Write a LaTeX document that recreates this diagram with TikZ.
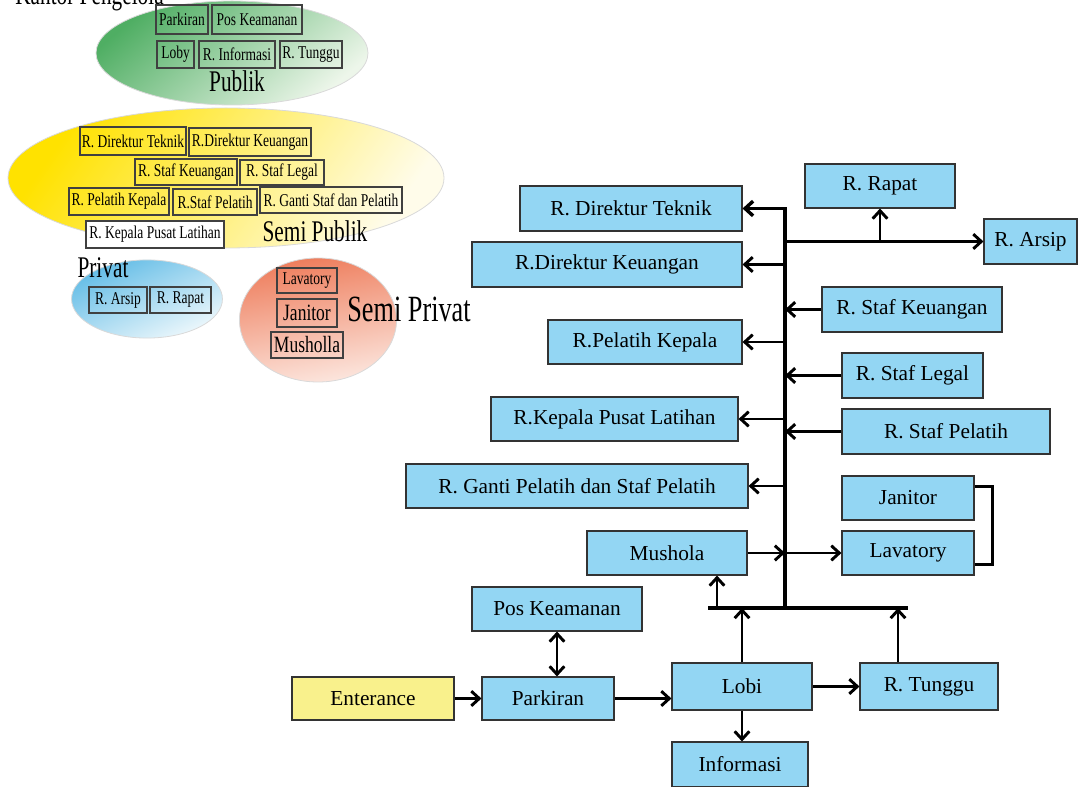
\documentclass[tikz,border=0pt]{standalone}
\usepackage{fontspec}
\setmainfont{Liberation Serif}
\newfontfamily\narrowserif[FakeStretch=0.75]{Liberation Serif}
\newfontfamily\narrowerserif[FakeStretch=0.71]{Liberation Serif}
\usetikzlibrary{arrows.meta,calc}
\definecolor{roomblue}{HTML}{93D6F3}
\definecolor{entyellow}{HTML}{F9F18C}
\definecolor{pubdark}{HTML}{4FAE63}
\definecolor{publight}{HTML}{EDF6EA}
\definecolor{semidark}{HTML}{FFE200}
\definecolor{semilight}{HTML}{FFFCEA}
\definecolor{privdark}{HTML}{62BCE6}
\definecolor{privlight}{HTML}{EEF8FC}
\definecolor{spdark}{HTML}{EE7D5C}
\definecolor{splight}{HTML}{FCE6DE}
\begin{document}
\begin{tikzpicture}[x=0.75pt,y=-0.75pt,
  % a box given by its corners (left, top, right, bottom)
  span/.style n args={4}{minimum width={(#3-#1)*0.75pt}, minimum height={(#4-#2)*0.75pt},
    at={({(#1+#3)/2},{(#2+#4)/2})}},
  room/.style={draw=black!80, line width=0.8pt, fill=roomblue, inner sep=0pt,
    font=\fontsize{16}{18}\selectfont},
  zone/.style={draw=black!75, line width=1.1pt, inner sep=0pt,
    font=\narrowserif\fontsize{13.5}{15}\selectfont},
  bigzone/.style={zone, font=\narrowserif\fontsize{17.5}{19}\selectfont},
  zonelabel/.style={inner sep=0pt, anchor=base, font=\narrowerserif\fontsize{22.5}{24}\selectfont},
  tip/.style={Straight Barb[length=6pt,width=11pt]},
  flow/.style={line width=2.2pt, -{Straight Barb[length=6pt,width=11pt]}},
  twoway/.style={line width=2.2pt, {Straight Barb[length=6pt,width=11pt]}-{Straight Barb[length=6pt,width=11pt]}},
  busline/.style={line width=3pt},
  halo/.style={draw=black!15, line width=0.6pt}]
\useasboundingbox (0,0) rectangle (1078,787);
\clip (0,0) rectangle (1078,787);

% ---------- zoning bubbles ----------
\shade[halo, top color=pubdark, bottom color=publight, shading angle=40]
  (232,53) ellipse [x radius=102pt, y radius=39pt];
\shade[halo, top color=semidark, bottom color=semilight, shading angle=55]
  (226,178) ellipse [x radius=163.5pt, y radius=52.5pt];
\shade[halo, top color=privdark, bottom color=privlight, shading angle=25]
  (147,299) ellipse [x radius=56.6pt, y radius=29.3pt];
\shade[halo, top color=spdark, bottom color=splight, shading angle=10]
  (318,320) ellipse [x radius=58.9pt, y radius=46.5pt];

\node[inner sep=0pt, anchor=base west, font=\narrowerserif\fontsize{22.5}{24}\selectfont]
  (title) at (15,5) {Kantor Pengelola};

% Publik
\node[zone, span={156}{5}{208}{34}] (zparkir) {Parkiran};
\node[zone, span={212}{5}{302}{34}] (zpos) {Pos Keamanan};
\node[zone, span={157}{41}{194}{68}] (zloby) {Loby};
\node[zone, span={199}{41}{275}{68}] (zinfo) {R. Informasi};
\node[zone, span={280}{41}{342}{68}] (ztunggu) {R. Tunggu};
\node[zonelabel] (lpublik) at (237,92) {Publik};

% Semi Publik
\node[zone, span={80}{127}{186}{155}] (zdt) {R. Direktur Teknik};
\node[zone, span={189}{128}{311}{156}] (zdk) {R.Direktur Keuangan};
\node[zone, span={135}{159}{237}{185}] (zsk) {R. Staf Keuangan};
\node[zone, span={240}{160}{324}{185}] (zsl) {R. Staf Legal};
\node[zone, span={69}{188}{169}{215}] (zpk) {R. Pelatih Kepala};
\node[zone, span={173}{189}{257}{215}] (zsp) {R.Staf Pelatih};
\node[zone, span={260}{187}{402}{213}] (zgs) {R. Ganti Staf dan Pelatih};
\node[zone, fill=white, span={86}{221}{224}{248}] (zkpl) {R. Kepala Pusat Latihan};
\node[zonelabel] (lsemipublik) at (315,242) {Semi Publik};

% Privat
\node[zone, span={89}{287}{147}{313}] (zarsip) {R. Arsip};
\node[zone, span={150}{287}{211}{313}] (zrapat) {R. Rapat};
\node[zonelabel] (lprivat) at (103,278) {Privat};

% Semi Privat
\node[zone, span={277}{268}{337}{293}] (zlav) {Lavatory};
\node[bigzone, span={277}{299}{337}{327}] (zjan) {Janitor};
\node[bigzone, span={271}{332}{343}{358}] (zmus) {Musholla};
\node[zonelabel, font=\narrowerserif\fontsize{27.75}{30}\selectfont] (lsemiprivat) at (409,322) {Semi Privat};

% ---------- circulation diagram ----------
\node[room, span={805}{164}{955}{208}] (rapat) {R. Rapat};
\node[room, span={520}{186}{742}{231}] (dt) {R. Direktur Teknik};
\node[room, span={984}{219}{1077}{264}] (arsip) {R. Arsip};
\node[room, span={472}{242}{742}{287}] (dk) {R.Direktur Keuangan};
\node[room, span={822}{287}{1002}{332}] (sk) {R. Staf Keuangan};
\node[room, span={548}{320}{742}{364}] (pk) {R.Pelatih Kepala};
\node[room, span={842}{353}{983}{398}] (sl) {R. Staf Legal};
\node[room, span={491}{397}{738}{441}] (kpl) {R.Kepala Pusat Latihan};
\node[room, span={842}{409}{1050}{454}] (sp) {R. Staf Pelatih};
\node[room, span={406}{464}{748}{508}] (gp) {R. Ganti Pelatih dan Staf Pelatih};
\node[room, span={842}{476}{974}{520}] (jan) {Janitor};
\node[room, span={587}{531}{747}{575}] (mus) {Mushola};
\node[room, span={842}{531}{974}{575}] (lav) {Lavatory};
\node[room, span={472}{587}{642}{631}] (pos) {Pos Keamanan};
\node[room, fill=entyellow, span={292}{677}{454}{720}] (ent) {Enterance};
\node[room, span={482}{677}{614}{720}] (park) {Parkiran};
\node[room, span={672}{663}{812}{710}] (lobi) {Lobi};
\node[room, span={860}{663}{998}{710}] (tunggu) {R. Tunggu};
\node[room, span={672}{742}{808}{787}] (info) {Informasi};

\coordinate (vbot) at (785,608);
\coordinate (hbL) at (708,608);
\coordinate (hbR) at (908,608);
\coordinate (mup) at (717,608);
\coordinate (tup) at (898,608);

% main spine and bottom distributor
\draw[flow, line width=2.6pt] (vbot) |- (dt.east);
\draw[busline] (hbL) -- (hbR);

% top branch
\draw[flow] (vbot |- arsip.west) -- (arsip.west);
\draw[flow] (rapat.south |- arsip.west) -- (rapat.south);

% rooms served from the spine
\draw[flow] (vbot |- dk.east) -- (dk.east);
\draw[flow] (vbot |- pk.east) -- (pk.east);
\draw[flow] (vbot |- kpl.east) -- (kpl.east);
\draw[flow] (vbot |- gp.east) -- (gp.east);

% rooms feeding the spine
\draw[flow] (sk.west) -- (vbot |- sk.west);
\draw[flow] (sl.west) -- (vbot |- sl.west);
\draw[flow] (sp.west) -- (vbot |- sp.west);
\draw[flow] (mus.east) -- (vbot |- mus.east);
\draw[flow] (vbot |- mus.east) -- (lav.west);

% service rooms
\draw[line width=2.6pt] ($(jan.east)!0.5!(jan.north east)$)
  -| ($(lav.east)!0.5!(lav.south east)+(18,0)$) -- ($(lav.east)!0.5!(lav.south east)$);

% distributor connections
\draw[flow] (mup) -- (mup |- mus.south);
\draw[flow] (lobi.north) -- (lobi.north |- hbL);
\draw[flow] (tup |- tunggu.north) -- (tup);

% entrance sequence
\draw[flow] (ent.east) -- (park.west);
\draw[twoway] (pos.south) -- (pos.south |- park.north);
\draw[flow] (park.east) -- (park.east -| lobi.west);
\draw[flow] (lobi.east) -- (tunggu.west);
\draw[flow] (lobi.south) -- (lobi.south |- info.north);
\end{tikzpicture}
\end{document}
